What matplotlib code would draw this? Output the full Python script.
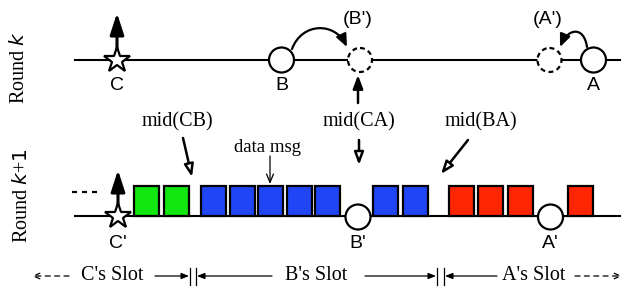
import matplotlib
matplotlib.use('Agg')
import matplotlib.pyplot as plt
from matplotlib.patches import Circle, Rectangle, FancyArrowPatch
from matplotlib.path import Path

# diagram content (pixel-like units, y grows downward)
round_labels = ['Round $k$', 'Round $k$+$1$']
top_nodes = ['C', 'B', 'A']
top_ghosts = ["(B')", "(A')"]
bottom_nodes = ["C'", "B'", "A'"]
mid_labels = ['mid(CB)', 'mid(CA)', 'mid(BA)']
slot_labels = ["C's Slot", "B's Slot", "A's Slot"]

green_x = [134, 164]
blue_x = [201, 230, 258, 287, 315, 373, 403]
red_x = [449, 478, 508, 568]
box_colors = {'green': '#11e611', 'blue': '#1f45f5', 'red': '#ff2500'}

SERIF = 'Liberation Serif'
SANS = 'Liberation Sans'

fig = plt.figure(figsize=(6.34, 2.93), dpi=100)
ax = fig.add_axes([0, 0, 1, 1])
ax.set_xlim(0, 634)
ax.set_ylim(293, 0)
ax.axis('off')

y1, y2 = 60, 216   # the two time lines
lw = 1.5


def arrow(a, b, style, ms=10, lw=1.5, **kw):
    p = FancyArrowPatch(a, b, arrowstyle=style, mutation_scale=ms, lw=lw,
                        shrinkA=0, shrinkB=0, **kw)
    ax.add_patch(p)
    return p


ax.plot([75, 620], [y1, y1], color='k', lw=lw, zorder=1)
ax.plot([75, 620], [y2, y2], color='k', lw=lw, zorder=1)

# round labels
ax.text(20, 67, round_labels[0], rotation=90, ha='center', va='center',
        fontsize=14.5, family=SERIF)
ax.text(23, 196, round_labels[1], rotation=90, ha='center', va='center',
        fontsize=14.5, family=SERIF)

# ---- round k ----
big_head = '-|>,head_length=1.3,head_width=0.42'
arrow((117, 60), (117, 13), big_head, lw=2.2, color='k', zorder=3)
ax.plot(117, y1, marker='*', ms=19, mfc='white', mec='k', mew=1.6, zorder=5)
ax.text(117, 86, top_nodes[0], ha='center', va='center', fontsize=14, family=SANS)

for cx, lab in [(281.5, top_nodes[1]), (593.5, top_nodes[2])]:
    ax.add_patch(Circle((cx, y1), 12.5, fc='white', ec='k', lw=1.6, zorder=4))
    ax.text(cx, 86, lab, ha='center', va='center', fontsize=14, family=SANS)

for cx, lab in [(360, top_ghosts[0]), (549.5, top_ghosts[1])]:
    ax.add_patch(Circle((cx, y1), 12, fc='white', ec='k', lw=1.6, ls=(0, (2.2, 1.6)), zorder=4))
    ax.text(cx - 2, 19, lab, ha='center', va='center', fontsize=14, family=SANS)

# curved moves
curve_head = '-|>,head_length=0.75,head_width=0.32'
pB = Path([(292, 49), (302, 22), (335, 22), (347, 47)],
          [Path.MOVETO, Path.CURVE4, Path.CURVE4, Path.CURVE4])
ax.add_patch(FancyArrowPatch(path=pB, arrowstyle=curve_head, mutation_scale=10,
                             lw=1.6, color='k', zorder=3))
pA = Path([(587, 47), (584, 26), (568, 28), (560, 47)],
          [Path.MOVETO, Path.CURVE4, Path.CURVE4, Path.CURVE4])
ax.add_patch(FancyArrowPatch(path=pA, arrowstyle=curve_head, mutation_scale=10,
                             lw=1.6, color='k', zorder=3))

# up arrow under (B')
arrow((358, 103), (358, 75), '-|>,head_length=0.8,head_width=0.3', lw=1.8, color='k')

# ---- mid labels ----
ax.text(177, 122, mid_labels[0], ha='center', va='center', fontsize=14.5, family=SERIF)
ax.text(359, 122, mid_labels[1], ha='center', va='center', fontsize=14.5, family=SERIF)
ax.text(481, 122, mid_labels[2], ha='center', va='center', fontsize=14.5, family=SERIF)
for a, b in [((183, 138), (192, 177)), ((359, 140), (359, 165)), ((468, 140), (441, 174))]:
    arrow(a, b, '-|>,head_length=0.75,head_width=0.28', lw=1.8, ec='k', fc='white', zorder=3)

ax.text(267, 147, 'data msg', ha='center', va='center', fontsize=13.5, family=SERIF)
arrow((270, 156), (270, 184), '->,head_length=0.6,head_width=0.25', lw=0.9, color='k')

# ---- round k+1 ----
for xs, col in [(green_x, 'green'), (blue_x, 'blue'), (red_x, 'red')]:
    for x in xs:
        ax.add_patch(Rectangle((x, 186), 25, 30, fc=box_colors[col], ec='k', lw=1.6, zorder=2))

for x0 in [72, 82, 92]:
    ax.plot([x0, x0 + 5], [192, 192], color='k', lw=1.6, solid_capstyle='butt')

arrow((118, 216), (118, 170), big_head, lw=2.2, color='k', zorder=3)
ax.plot(118, y2, marker='*', ms=19, mfc='white', mec='k', mew=1.6, zorder=5)
ax.text(118, 243, bottom_nodes[0], ha='center', va='center', fontsize=14, family=SANS)
for cx, lab in [(358, bottom_nodes[1]), (550.5, bottom_nodes[2])]:
    ax.add_patch(Circle((cx, y2 + 1), 12.5, fc='white', ec='k', lw=1.6, zorder=4))
    ax.text(cx, 243, lab, ha='center', va='center', fontsize=14, family=SANS)

# ---- slot row ----
ys = 276
ax.text(112, ys, slot_labels[0], ha='center', va='center', fontsize=14.5, family=SERIF)
ax.text(316, ys, slot_labels[1], ha='center', va='center', fontsize=14.5, family=SERIF)
ax.text(534, ys, slot_labels[2], ha='center', va='center', fontsize=14.5, family=SERIF)

small_head = '-|>,head_length=0.45,head_width=0.18'
open_head = '->,head_length=0.45,head_width=0.2'
arrow((69, ys), (32, ys), open_head, lw=0.9, color='k', ls=(0, (4, 3.5)))
arrow((155, ys), (189, ys), small_head, lw=0.9, color='k')
arrow((272, ys), (197, ys), small_head, lw=0.9, color='k')
arrow((365, ys), (436, ys), small_head, lw=0.9, color='k')
arrow((497, ys), (445, ys), small_head, lw=0.9, color='k')
arrow((575, ys), (622, ys), open_head, lw=0.9, color='k', ls=(0, (4, 3.5)))
for xt in [190, 196, 437, 444]:
    ax.plot([xt, xt], [268, 285], color='k', lw=0.9)

fig.savefig('out.png', dpi=100)
